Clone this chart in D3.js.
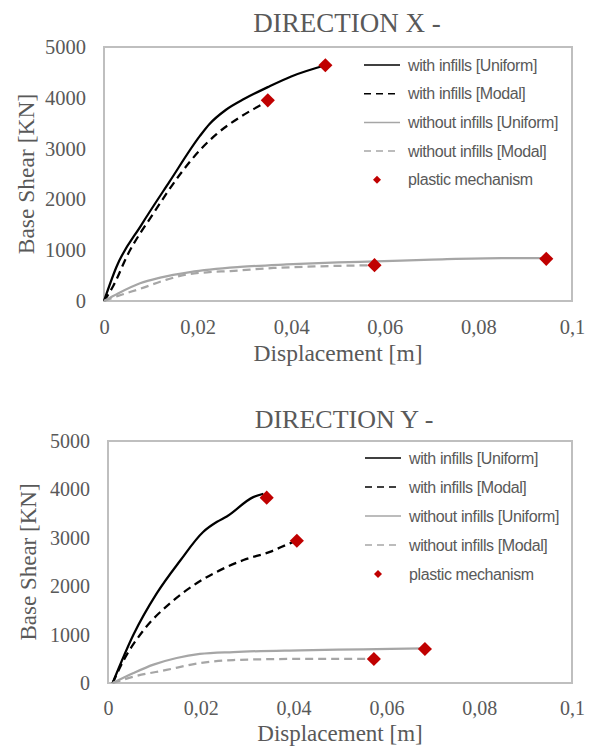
<!DOCTYPE html>
<html>
<head>
<meta charset="utf-8">
<script src="https://cdn.jsdelivr.net/npm/d3@7"></script>
<style>
  body { margin: 0; background: #fff; }
  svg { display: block; }
</style>
</head>
<body>
<div id="chart"></div>
<script>
// ---- data -------------------------------------------------------------
const xTicks = [0, 0.02, 0.04, 0.06, 0.08, 0.1];
const yTicks = [0, 1000, 2000, 3000, 4000, 5000];
const seriesNames = ["with infills [Uniform]", "with infills [Modal]",
                     "without infills [Uniform]", "without infills [Modal]"];
const markerName = "plastic mechanism";

// Direction X  (displacement [m], base shear [KN])
const xInfUniD = [0, 0.0027, 0.008, 0.014, 0.0205, 0.0225, 0.026, 0.03, 0.035, 0.04, 0.0473];
const xInfUniV = [0, 680, 1500, 2350, 3250, 3480, 3760, 3980, 4210, 4420, 4640];
const xInfModD = [0, 0.002, 0.005, 0.0106, 0.0163, 0.0206, 0.0241, 0.0291, 0.035];
const xInfModV = [0, 300, 900, 1730, 2500, 2980, 3290, 3620, 3930];
const xNoUniD  = [0, 0.003, 0.0077, 0.012, 0.0184, 0.0291, 0.039, 0.05, 0.058, 0.07, 0.085, 0.0945];
const xNoUniV  = [0, 150, 350, 460, 570, 670, 720, 760, 780, 815, 845, 845];
const xNoModD  = [0, 0.003, 0.0077, 0.0134, 0.0175, 0.022, 0.027, 0.0362, 0.045, 0.0578];
const xNoModV  = [0, 100, 240, 420, 520, 565, 590, 650, 680, 705];
const xMechD   = [0.0473, 0.035, 0.0945, 0.0578];
const xMechV   = [4640, 3950, 830, 705];

// Direction Y
const yInfUniD = [0.001, 0.0055, 0.0105, 0.0155, 0.0205, 0.0235, 0.0256, 0.0313, 0.0335];
const yInfUniV = [0, 1000, 1850, 2520, 3120, 3330, 3440, 3840, 3910];
const yInfModD = [0.001, 0.0034, 0.0077, 0.0134, 0.0191, 0.0235, 0.0292, 0.0349, 0.0392, 0.0407];
const yInfModV = [0, 475, 1095, 1650, 2060, 2300, 2540, 2710, 2885, 2940];
const yNoUniD  = [0.001, 0.0055, 0.0098, 0.0148, 0.0198, 0.027, 0.0414, 0.055, 0.068];
const yNoUniV  = [0, 207, 380, 517, 600, 640, 675, 695, 715];
const yNoModD  = [0.001, 0.0055, 0.0126, 0.0198, 0.027, 0.0414, 0.0573];
const yNoModV  = [0, 130, 270, 410, 475, 498, 498];
const yMechD   = [0.0342, 0.0407, 0.0683, 0.0573];
const yMechV   = [3830, 2940, 702, 496];

// ---- styles -----------------------------------------------------------
const seriesStyles = [
  { color: "#000000", dash: null },
  { color: "#000000", dash: "8,5" },
  { color: "#a6a6a6", dash: null },
  { color: "#a6a6a6", dash: "8,5" }
];
const textColor = "#595959";
const frameColor = "#bfbfbf";
const mechColor = "#c00000";
const serif = "'Liberation Serif', 'Times New Roman', serif";
const sans = "'Liberation Sans', Arial, sans-serif";

const svg = d3.select("#chart").append("svg")
    .attr("width", 591)
    .attr("height", 749);

const fmt = v => String(v).replace(".", ",");

function drawPanel(p) {
    const g = svg.append("g");

    const x = d3.scaleLinear().domain([0, 0.1]).range([p.left, p.right]);
    const y = d3.scaleLinear().domain([0, 5000]).range([p.bottom, p.top]);

    g.append("text")
        .attr("x", p.titleX)
        .attr("y", p.titleY)
        .attr("text-anchor", "middle")
        .attr("font-family", serif)
        .attr("font-size", p.titleSize)
        .attr("fill", textColor)
        .text(p.title);

    // plot frame
    g.append("rect")
        .attr("x", p.left)
        .attr("y", p.top)
        .attr("width", p.right - p.left)
        .attr("height", p.bottom - p.top)
        .attr("fill", "none")
        .attr("stroke", frameColor)
        .attr("stroke-width", 2);

    const xAxis = g.append("g")
        .attr("transform", `translate(0,${p.bottom})`)
        .call(d3.axisBottom(x).tickValues(xTicks).tickFormat(fmt).tickSize(0).tickPadding(18));
    const yAxis = g.append("g")
        .attr("transform", `translate(${p.left},0)`)
        .call(d3.axisLeft(y).tickValues(yTicks).tickFormat(d => String(d)).tickSize(0).tickPadding(18));
    [xAxis, yAxis].forEach(a => {
        a.select(".domain").remove();
        a.selectAll("text")
            .attr("font-family", serif)
            .attr("font-size", p.tickSize)
            .attr("fill", textColor);
    });

    g.append("text")
        .attr("x", (p.left + p.right) / 2)
        .attr("y", p.xTitleY)
        .attr("text-anchor", "middle")
        .attr("font-family", serif)
        .attr("font-size", p.axisTitleSize)
        .attr("fill", textColor)
        .text("Displacement [m]");

    g.append("text")
        .attr("transform", `translate(${p.yTitleX},${(p.top + p.bottom) / 2}) rotate(-90)`)
        .attr("text-anchor", "middle")
        .attr("font-family", serif)
        .attr("font-size", p.axisTitleSize)
        .attr("fill", textColor)
        .text("Base Shear [KN]");

    const line = d3.line()
        .x(d => x(d[0]))
        .y(d => y(d[1]))
        .curve(d3.curveMonotoneX);

    p.series.forEach((s, i) => {
        g.append("path")
            .datum(d3.zip(s[0], s[1]))
            .attr("d", line)
            .attr("fill", "none")
            .attr("stroke", seriesStyles[i].color)
            .attr("stroke-width", 2.25)
            .attr("stroke-dasharray", seriesStyles[i].dash);
    });

    g.selectAll(".mech")
        .data(d3.zip(p.mech[0], p.mech[1]))
        .join("path")
        .attr("class", "mech")
        .attr("d", d3.symbol(d3.symbolSquare, 100)())
        .attr("transform", d => `translate(${x(d[0])},${y(d[1])}) rotate(45)`)
        .attr("fill", mechColor);

    // legend
    const lg = g.append("g");
    const names = seriesNames.concat([markerName]);
    names.forEach((name, i) => {
        const cy = p.legendY + i * p.legendStep;
        if (i < 4) {
            lg.append("line")
                .attr("x1", p.legendX).attr("x2", p.legendX + 36)
                .attr("y1", cy).attr("y2", cy)
                .attr("stroke", seriesStyles[i].color)
                .attr("stroke-width", 1.5)
                .attr("stroke-dasharray", seriesStyles[i].dash ? "7,5" : null);
        } else {
            lg.append("path")
                .attr("d", d3.symbol(d3.symbolSquare, 32)())
                .attr("transform", `translate(${p.legendX + 13},${cy}) rotate(45)`)
                .attr("fill", mechColor);
        }
        lg.append("text")
            .attr("x", p.legendX + 44)
            .attr("y", cy)
            .attr("dy", "0.35em")
            .attr("font-family", sans)
            .attr("font-size", 16)
            .attr("letter-spacing", -0.4)
            .attr("fill", textColor)
            .text(name);
    });
}

drawPanel({
    title: "DIRECTION X -", titleX: 347, titleY: 32, titleSize: 27,
    left: 104, right: 572, top: 47, bottom: 301,
    tickSize: 20.5, axisTitleSize: 23.5, xTitleY: 361, yTitleX: 34,
    legendX: 364, legendY: 65, legendStep: 28.7,
    series: [[xInfUniD, xInfUniV], [xInfModD, xInfModV], [xNoUniD, xNoUniV], [xNoModD, xNoModV]],
    mech: [xMechD, xMechV]
});

drawPanel({
    title: "DIRECTION Y -", titleX: 344, titleY: 428, titleSize: 26,
    left: 108, right: 572, top: 441, bottom: 683,
    tickSize: 20, axisTitleSize: 23, xTitleY: 741, yTitleX: 36,
    legendX: 365, legendY: 458, legendStep: 29,
    series: [[yInfUniD, yInfUniV], [yInfModD, yInfModV], [yNoUniD, yNoUniV], [yNoModD, yNoModV]],
    mech: [yMechD, yMechV]
});
</script>
</body>
</html>
